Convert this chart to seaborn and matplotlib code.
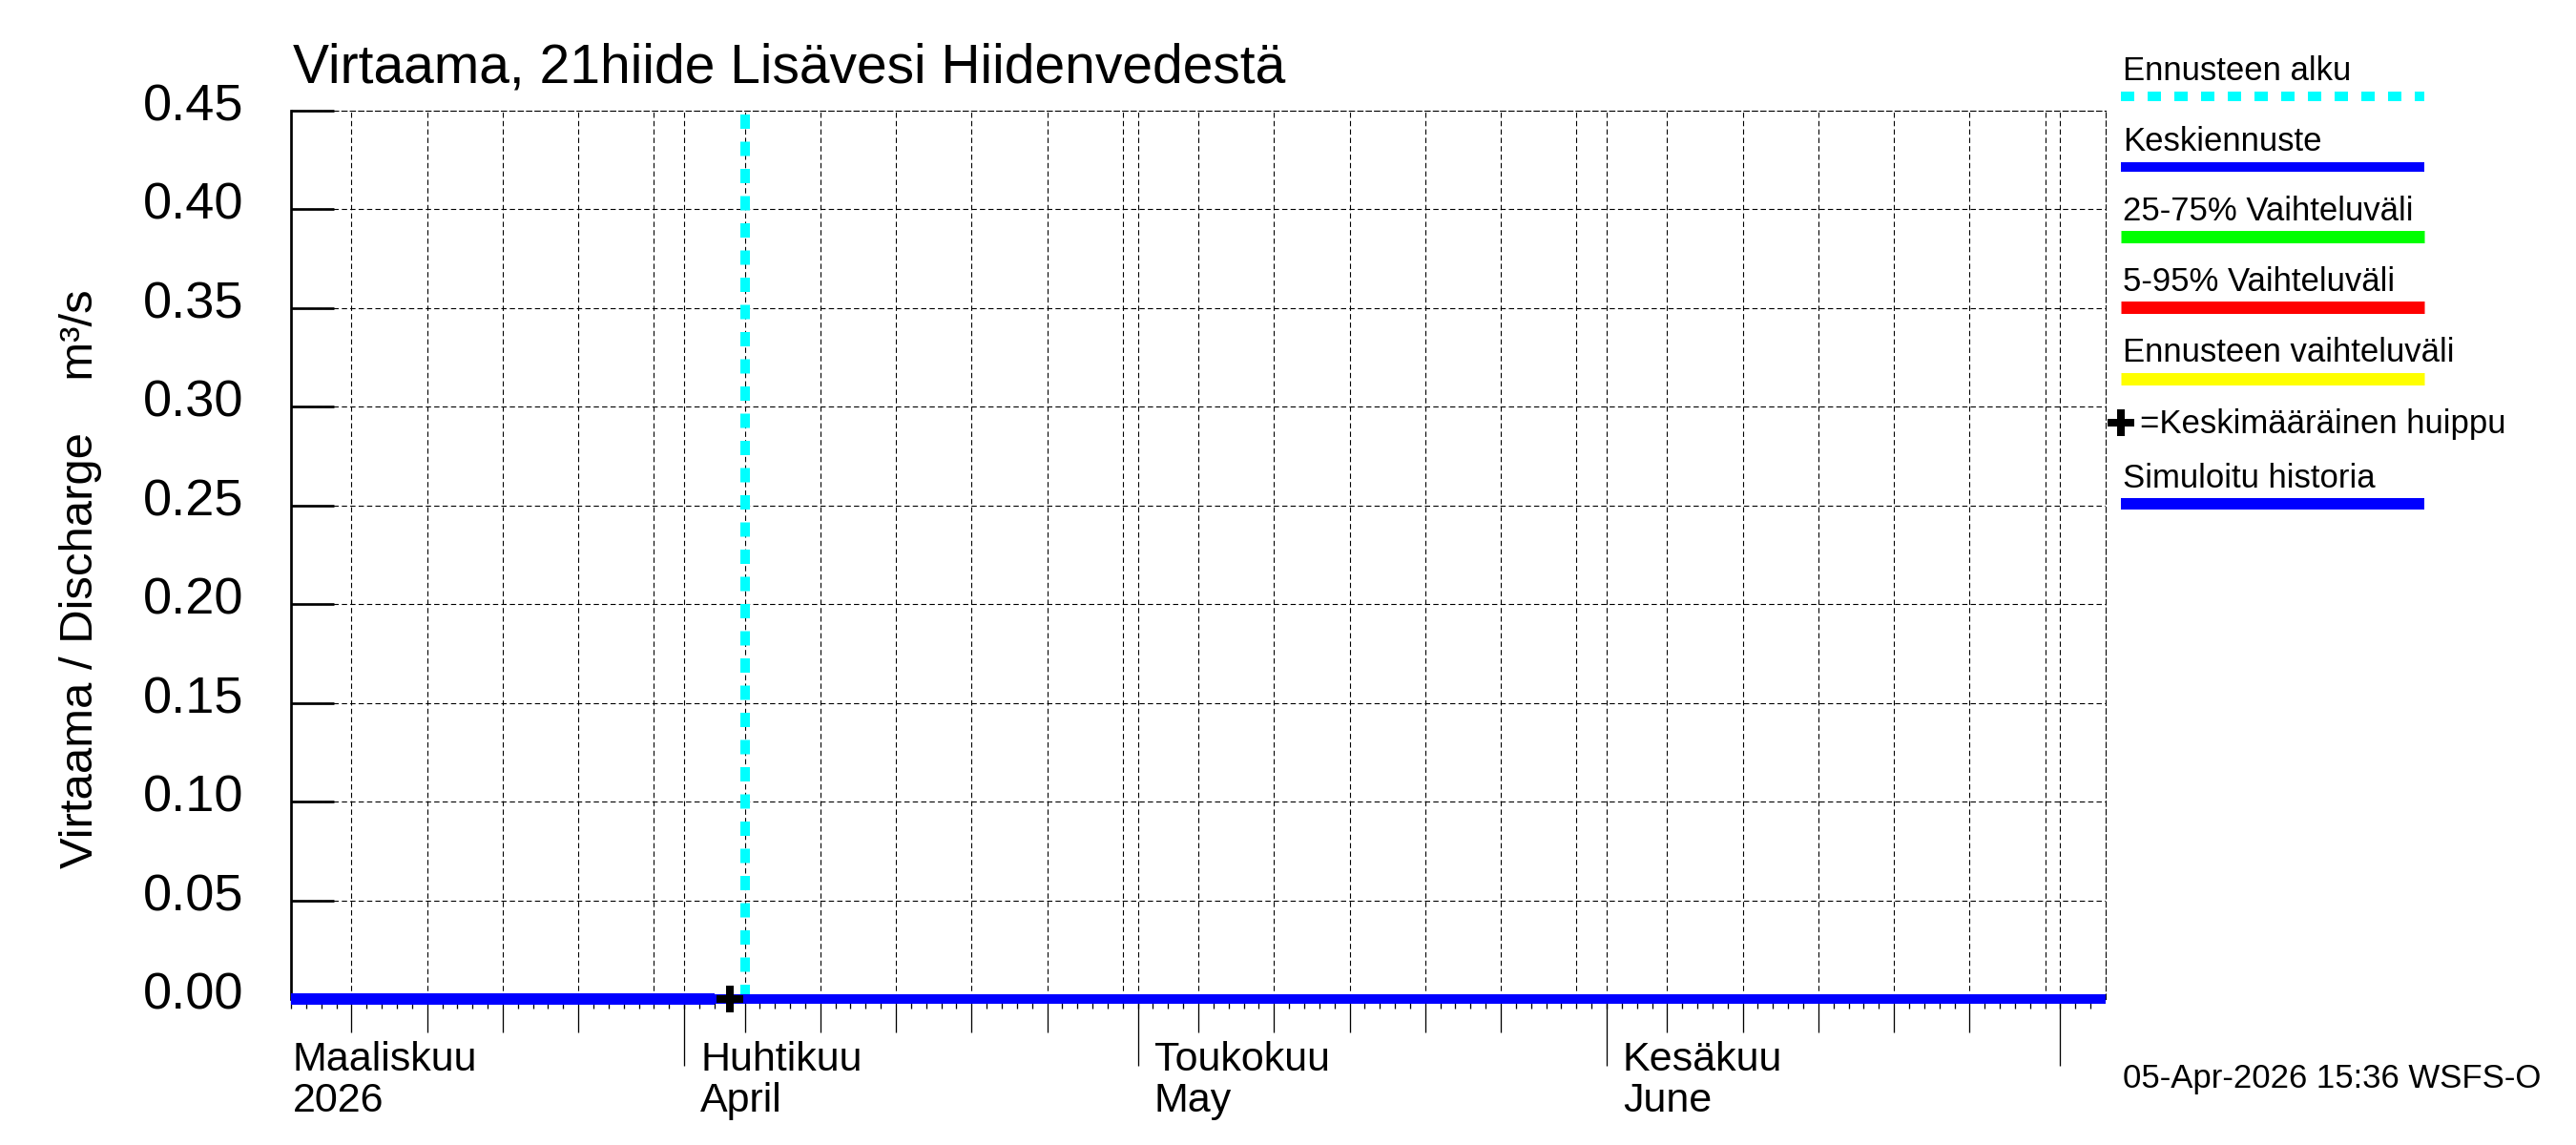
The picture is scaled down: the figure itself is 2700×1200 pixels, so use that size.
import numpy as np
import pandas as pd
import matplotlib
matplotlib.use("Agg")
import matplotlib.pyplot as plt
import matplotlib.dates as mdates
import matplotlib.transforms as mtransforms
from matplotlib.lines import Line2D
import seaborn as sns

# ---------------- data ----------------
title = "Virtaama, 21hiide Lisävesi Hiidenvedestä"
ylabel = "Virtaama / Discharge    m³/s"
x_start = "2026-03-06"
x_end = "2026-07-04"
history_dates = ["2026-03-06", "2026-04-03"]
history_values = [0.0, 0.0]
forecast_dates = ["2026-04-03", "2026-07-04"]
forecast_values = [0.0, 0.0]
forecast_start = "2026-04-05"
mean_peak_dates = ["2026-04-04"]
mean_peak_values = [0.0]
y_ticks = [0.00, 0.05, 0.10, 0.15, 0.20, 0.25, 0.30, 0.35, 0.40, 0.45]
month_starts = ["2026-03-01", "2026-04-01", "2026-05-01", "2026-06-01", "2026-07-01"]
month_fi = ["Maaliskuu", "Huhtikuu", "Toukokuu", "Kesäkuu"]
month_en = ["2026", "April", "May", "June"]
legend_labels = ["Ennusteen alku", "Keskiennuste", "25-75% Vaihteluväli",
                 "5-95% Vaihteluväli", "Ennusteen vaihteluväli",
                 "=Keskimääräinen huippu", "Simuloitu historia"]
footer = "05-Apr-2026 15:36 WSFS-O"

# ---------------- style ----------------
sns.set_theme(style="white")
plt.rcParams["font.family"] = ["Liberation Sans", "DejaVu Sans"]
plt.rcParams["text.color"] = "black"
plt.rcParams["axes.labelcolor"] = "black"
plt.rcParams["xtick.color"] = "black"
plt.rcParams["ytick.color"] = "black"

W, H, DPI = 2700, 1200, 100


def px(v):
    return v * 72.0 / DPI


def fx(v):
    return v / W


def fy(v):
    return 1 - v / H


fig = plt.figure(figsize=(W / DPI, H / DPI), dpi=DPI)
ax_l, ax_r, ax_t, ax_b = 305, 2207, 116, 1047
ax = fig.add_axes([fx(ax_l), fy(ax_b), (ax_r - ax_l) / W, (ax_b - ax_t) / H])

xs = pd.Timestamp(x_start)
xe = pd.Timestamp(x_end)

# gridlines (vertical)
days = pd.date_range(xs, xe, freq="D")[:-1]
grid_days = [d for d in days if d.day in (1, 5, 10, 15, 20, 25, 30)]
ax.vlines(mdates.date2num(grid_days), 0, 1, transform=ax.get_xaxis_transform(),
          colors="black", linewidth=px(1.1), linestyles=(0, (5, 3)), zorder=1)

# forecast start
ax.axvline(pd.Timestamp(forecast_start), color="#00ffff", lw=px(10),
           dashes=(1.5, 1.35), zorder=3)

# series
sns.lineplot(x=pd.to_datetime(history_dates), y=history_values, ax=ax,
             color="#0000ff", lw=px(12), clip_on=False, solid_capstyle="butt",
             zorder=5, legend=False)
sns.lineplot(x=pd.to_datetime(forecast_dates), y=forecast_values, ax=ax,
             color="#0000ff", lw=px(10), clip_on=False, solid_capstyle="butt",
             zorder=5, legend=False)
sns.scatterplot(x=pd.to_datetime(mean_peak_dates), y=mean_peak_values, ax=ax,
                marker="+", s=px(27) ** 2, color="black", linewidth=px(8),
                clip_on=False, zorder=6, legend=False)

ax.set_xlim(xs, xe)
ax.set_ylim(0, 0.45)
ax.set_xlabel("")
ax.set_ylabel("")

# x ticks
major = [d for d in days if d.day in (5, 10, 15, 20, 25)]
ax.set_xticks(mdates.date2num(major))
ax.set_xticks(mdates.date2num(days), minor=True)
ax.tick_params(axis="x", which="major", direction="out", length=px(35),
               width=px(1.3), labelbottom=False, bottom=True)
ax.tick_params(axis="x", which="minor", direction="out", length=px(10),
               width=px(1.3), bottom=True)
ax.xaxis.grid(False)

sec = ax.secondary_xaxis("bottom")
ms = [mdates.date2num(pd.Timestamp(m)) for m in month_starts
      if xs <= pd.Timestamp(m) <= xe]
sec.set_xticks(ms)
sec.tick_params(axis="x", direction="out", length=px(70), width=px(1.3),
                labelbottom=False, bottom=True)
sec.spines["bottom"].set_visible(False)

# y ticks
ax.set_yticks(y_ticks)
ax.set_yticklabels([f"{v:.2f}" for v in y_ticks])
ax.tick_params(axis="y", direction="in", length=px(45), width=px(2.7),
               pad=px(50), labelsize=39, left=True)
ax.yaxis.grid(True, color="black", lw=px(1.1), linestyle=(0, (5, 3)))
ax.set_axisbelow(True)

# spines
ax.spines["left"].set_linewidth(px(2.7))
ax.spines["left"].set_color("black")
for s in ("top", "right"):
    ax.spines[s].set_visible(True)
    ax.spines[s].set_color("black")
    ax.spines[s].set_linewidth(px(1.1))
    ax.spines[s].set_linestyle((0, (5, 3)))
ax.spines["bottom"].set_visible(False)

off = mtransforms.ScaledTranslation(0, 9 / DPI, fig.dpi_scale_trans)
for lab in ax.get_yticklabels():
    lab.set_transform(lab.get_transform() + off)

# month labels
bt = mtransforms.blended_transform_factory(ax.transData, fig.transFigure)
for i, (fi, en) in enumerate(zip(month_fi, month_en)):
    m = pd.Timestamp(month_starts[i])
    shift = 17
    if m < xs:
        m = xs
        shift = 2
    t = bt + mtransforms.ScaledTranslation(shift / DPI, 0, fig.dpi_scale_trans)
    xm = mdates.date2num(m)
    ax.text(xm, fy(1122), fi, transform=t, fontsize=31, ha="left", va="baseline")
    ax.text(xm, fy(1165), en, transform=t, fontsize=31, ha="left", va="baseline")

# titles
fig.text(fx(307), fy(87), title, fontsize=41, ha="left", va="baseline")
fig.text(fx(85), fy(607), ylabel, fontsize=35.3, rotation=90, ha="center", va="center")
fig.text(fx(2225), fy(1140), footer, fontsize=25, ha="left", va="baseline")

# legend (custom layout: text above a line sample)
text_base = [84, 157.7, 231, 305, 379, 454, 511]
line_y = [100.7, 175, 248, 322, 396.7, None, 528]
line_styles = [
    dict(color="#00ffff", lw=px(10), dashes=(1.4, 1.4)),
    dict(color="#0000ff", lw=px(10)),
    dict(color="#00ff00", lw=px(13)),
    dict(color="#ff0000", lw=px(13)),
    dict(color="#ffff00", lw=px(13)),
    None,
    dict(color="#0000ff", lw=px(12)),
]
for lbl, tb, ly, st in zip(legend_labels, text_base, line_y, line_styles):
    if ly is None:
        fig.text(fx(2243), fy(tb), lbl, fontsize=25, ha="left", va="baseline")
        fig.add_artist(Line2D([fx(2222.7)], [fy(442.7)], transform=fig.transFigure,
                              marker="+", markersize=px(27), mew=px(8),
                              color="black", linestyle="none"))
    else:
        fig.text(fx(2225), fy(tb), lbl, fontsize=25, ha="left", va="baseline")
        fig.add_artist(Line2D([fx(2223), fx(2541)], [fy(ly), fy(ly)],
                              transform=fig.transFigure, solid_capstyle="butt",
                              dash_capstyle="butt", **st))

fig.savefig("out.png", dpi=DPI, facecolor="white")
